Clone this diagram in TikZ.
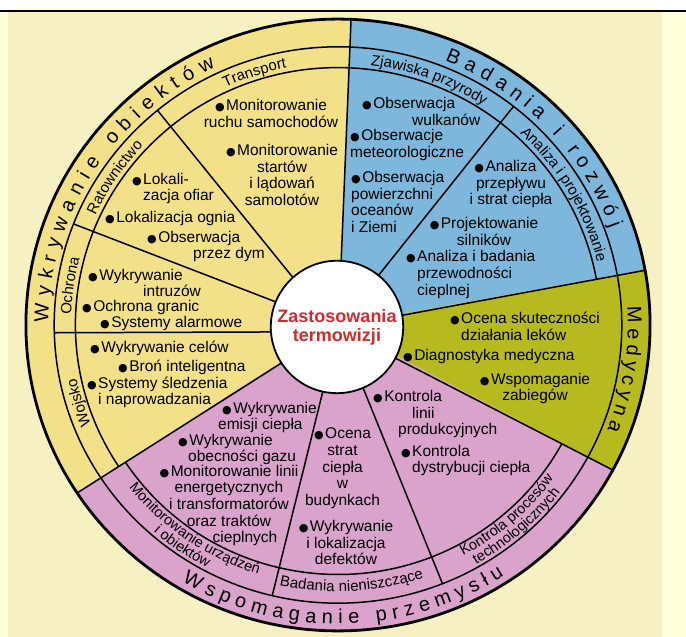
\documentclass[tikz,border=0pt]{standalone}
\usepackage{fontspec}
\setmainfont{Liberation Sans}
\newfontfamily\bulletfont{DejaVu Sans}
\definecolor{cyel}{HTML}{F2E189}
\definecolor{cblu}{HTML}{7DB7DB}
\definecolor{cgrn}{HTML}{B6BA1F}
\definecolor{cpnk}{HTML}{D9A3CB}
\definecolor{cred}{HTML}{D42A2A}
\definecolor{page}{HTML}{F7F0C3}
\definecolor{pale}{HTML}{FFFFDA}
\newcount\lettercount
\newcommand\itemfont{\fontsize{15.5}{16.7}\selectfont}
\newcommand\subfont{\fontsize{15}{16}\selectfont}
\newcommand\subsmallfont{\fontsize{14.5}{15}\selectfont}
\newcommand\outerfont{\fontsize{20}{22}\selectfont}
\newcommand\bul{{\bulletfont\fontsize{11}{11}\selectfont ●}\hspace{1.5pt}}
\newcommand\awsp{}
% character widths (Arial / Liberation Sans metrics, em)
\def\defcw#1#2{\expandafter\def\csname cw@#1\endcsname{#2}}
\expandafter\def\csname cw@\endcsname{0.278}
\defcw{A}{0.667}\defcw{B}{0.667}\defcw{K}{0.667}\defcw{M}{0.833}\defcw{O}{0.778}
\defcw{R}{0.722}\defcw{T}{0.611}\defcw{W}{0.944}\defcw{Z}{0.611}
\defcw{a}{0.556}\defcw{b}{0.556}\defcw{c}{0.500}\defcw{d}{0.556}\defcw{e}{0.556}
\defcw{g}{0.556}\defcw{h}{0.556}\defcw{i}{0.222}\defcw{j}{0.222}\defcw{k}{0.500}
\defcw{l}{0.222}\defcw{m}{0.833}\defcw{n}{0.556}\defcw{o}{0.556}\defcw{p}{0.556}
\defcw{r}{0.333}\defcw{s}{0.500}\defcw{t}{0.278}\defcw{u}{0.556}\defcw{w}{0.722}
\defcw{y}{0.500}\defcw{z}{0.500}\defcw{ó}{0.556}\defcw{ą}{0.556}\defcw{ń}{0.556}
\defcw{ł}{0.222}
\tikzset{
  letter/.style={anchor=base, inner sep=0pt, text=black},
  item/.style={inner sep=0pt, font=\itemfont, text=black},
  ring/.style={line width=1.5pt},
  divider/.style={line width=1.5pt},
}
% #1 font, #2 font size, #3 baseline radius, #4 centre angle, #5 direction, #6 tracking, #7 letters
\newcommand\arcword[7]{%
  \gdef\awtot{0}%
  \foreach \ch in {#7}{%
    \edef\chw{\csname cw@\ch\endcsname}%
    \pgfmathsetmacro\awt{\awtot+\chw*#2+#6}%
    \xdef\awtot{\awt}%
  }%
  \pgfmathsetmacro\awtotal{\awtot-#6}%
  \xdef\awtotal{\awtotal}%
  \gdef\awpos{0}%
  \foreach \ch in {#7}{%
    \edef\chw{\csname cw@\ch\endcsname}%
    \pgfmathsetmacro\chwpt{\chw*#2}%
    \pgfmathsetmacro\awang{#4+(#5)*(\awpos+\chwpt/2-\awtotal/2)/#3*57.29578}%
    \pgfmathsetmacro\awrot{\awang+(#5)*90}%
    \global\advance\lettercount by 1
    \node[letter, font=#1, rotate=\awrot] (ltr\the\lettercount) at (\awang:#3) {\ch};
    \pgfmathsetmacro\awn{\awpos+\chwpt+#6}%
    \xdef\awpos{\awn}%
  }%
}
\begin{document}
\begin{tikzpicture}[x=1pt,y=1pt]
\useasboundingbox (0,0) rectangle (686,637);
\fill[white] (0,0) rectangle (686,637);
\fill[pale] (0,0) rectangle (686,626);
\fill[page] (8,0) rectangle (662,626);
\draw[line width=2pt] (0,626) -- (686,626);

\begin{scope}[shift={(338,312)}, xscale=1.01, yscale=0.99]
  \fill[cyel] (0,0) -- (87.5:309) arc[start angle=87.5, end angle=213.3, radius=309] -- cycle;
  \fill[cblu] (0,0) -- (10.3:309) arc[start angle=10.3, end angle=87.5, radius=309] -- cycle;
  \fill[cgrn] (0,0) -- (-28.3:309) arc[start angle=-28.3, end angle=10.3, radius=309] -- cycle;
  \fill[cpnk] (0,0) -- (213.3:309) arc[start angle=213.3, end angle=331.7, radius=309] -- cycle;
  \draw[ring] (0,0) circle[radius=281];
  \draw[ring] (87.5:260) arc[start angle=87.5, end angle=213.3, radius=260];
  \draw[ring] (10.3:260) arc[start angle=10.3, end angle=87.5, radius=260];
  \draw[ring] (213.3:252) arc[start angle=213.3, end angle=331.7, radius=252];
  % main dividers
  \draw[divider] (87.2:62) -- (87.6:309);
  \draw[divider] (8.7:62) -- (10.3:309);
  \draw[divider] (-30.7:62) -- (-28.3:309);
  \draw[divider] (214.6:62) -- (213.3:309);
  % sub dividers
  \draw[divider] (133.2:62) -- (129.5:281);
  \draw[divider] (159.3:62) -- (158.7:281);
  \draw[divider] (186.5:62) -- (181.6:281);
  \draw[divider] (51.3:62) -- (51.8:281);
  \draw[divider] (257.5:62) -- (256.6:281);
  \draw[divider] (291.3:62) -- (291.6:281);
  \draw[line width=2.8pt] (0,0) circle[radius=309];
  \node[circle, draw, fill=white, minimum size=124pt, line width=1.8pt,
        font=\bfseries\fontsize{18}{19}\selectfont, text=cred, align=center]
        (centre) at (-1,-2) {Zastosowania\\termowizji};

  \arcword{\outerfont}{20}{287}{147.25}{-1}{7.3}{W,y,k,r,y,w,a,n,i,e,\awsp,o,b,i,e,k,t,ó,w}
  \arcword{\outerfont}{20}{287}{44.15}{-1}{6.4}{B,a,d,a,n,i,a,\awsp,i,\awsp,r,o,z,w,ó,j}
  \arcword{\outerfont}{20}{287}{-8.95}{-1}{5.1}{M,e,d,y,c,y,n,a}
  \arcword{\outerfont}{20}{302}{271.15}{1}{5.6}{W,s,p,o,m,a,g,a,n,i,e,\awsp,p,r,z,e,m,y,s,ł,u}

  \arcword{\subfont}{15}{264.5}{108}{-1}{0}{T,r,a,n,s,p,o,r,t}
  \arcword{\subfont}{15}{264.5}{146}{-1}{0}{R,a,t,o,w,n,i,c,t,w,o}
  \arcword{\subfont}{15}{264.5}{171.5}{-1}{0}{O,c,h,r,o,n,a}
  \arcword{\subfont}{15}{264.5}{197}{-1}{0}{W,o,j,s,k,o}
  \arcword{\subfont}{15}{264.5}{70}{-1}{0}{Z,j,a,w,i,s,k,a,\awsp,p,r,z,y,r,o,d,y}
  \arcword{\subfont}{15}{264.5}{30.5}{-1}{0}{A,n,a,l,i,z,a,\awsp,i,\awsp,p,r,o,j,e,k,t,o,w,a,n,i,e}
  \arcword{\subsmallfont}{14.5}{264}{235.5}{1}{0}{M,o,n,i,t,o,r,o,w,a,n,i,e,\awsp,u,r,z,ą,d,z,e,ń}
  \arcword{\subsmallfont}{14.5}{277.5}{235.5}{1}{0}{i,\awsp,o,b,i,e,k,t,ó,w}
  \arcword{\subfont}{15}{269}{273}{1}{0}{B,a,d,a,n,i,a,\awsp,n,i,e,n,i,s,z,c,z,ą,c,e}
  \arcword{\subsmallfont}{14.5}{264}{311}{1}{0}{K,o,n,t,r,o,l,a,\awsp,p,r,o,c,e,s,ó,w}
  \arcword{\subsmallfont}{14.5}{277.5}{311}{1}{0}{t,e,c,h,n,o,l,o,g,i,c,z,n,y,c,h}
\end{scope}

% Transport
\node[item, align=center] (tr1) at (271,637-113.5) {\bul Monitorowanie\\ruchu samochodów};
\node[item, align=center] (tr2) at (282,637-175) {\bul Monitorowanie\\startów\\i lądowań\\samolotów};
% Ratownictwo
\node[item, align=left, anchor=west] (ra1) at (143,637-188.5) {\llap{\bul}Lokali-\\zacja ofiar};
\node[item, anchor=west] (ra2) at (105,637-218) {\bul Lokalizacja ognia};
\node[item, align=left, anchor=west] (ra3) at (147,637-246.5) {\bul Obserwacja\\\hspace*{46pt}przez dym};
% Ochrona
\node[item, align=left, anchor=west] (oc1) at (88,637-283) {\bul Wykrywanie\\\hspace*{55pt}intruzów};
\node[item, anchor=west] (oc2) at (82,637-307) {\bul Ochrona granic};
\node[item, anchor=west] (oc3) at (100,637-323) {\bul Systemy alarmowe};
% Wojsko
\node[item, anchor=west] (wo1) at (90,637-348) {\bul Wykrywanie celów};
\node[item, anchor=west] (wo2) at (118,637-367) {\bul Broń inteligentna};
\node[item, align=left, anchor=west] (wo3) at (98,637-392.5) {\llap{\bul}Systemy śledzenia\\i naprowadzania};
% Monitorowanie urzadzen
\node[item, align=left, anchor=west] (mo1) at (218,637-417.5) {\hspace*{4pt}\bul Wykrywanie\\emisji ciepła};
\node[item, align=left, anchor=west] (mo2) at (178,637-449.5) {\bul Wykrywanie\\\hspace*{10pt}obecności gazu};
\node[item, align=center] (mo3) at (229,637-505.5) {\bul Monitorowanie linii\\energetycznych\\i transformatorów\\oraz traktów\\\hspace*{32pt}cieplnych};
% Badania nieniszczace
\node[item, align=center] (bn1) at (342.5,637-468.5) {\bul Ocena\\strat\\ciepła\\w\\budynkach};
\node[item, align=center] (bn2) at (346,637-542.5) {\bul Wykrywanie\\i lokalizacja\\defektów};
% Kontrola procesow
\node[item, align=left, anchor=west] (kp1) at (373,637-414) {\bul Kontrola\\\hspace*{39pt}linii\\\hspace*{25pt}produkcyjnych};
\node[item, align=left, anchor=west] (kp2) at (412,637-460.5) {\llap{\bul}Kontrola\\dystrybucji ciepła};
% Medycyna
\node[item, align=left, anchor=west] (me1) at (461,637-326.5) {\llap{\bul}Ocena skuteczności\\działania leków};
\node[item, anchor=west] (me2) at (403,637-356) {\bul Diagnostyka medyczna};
\node[item, align=center] (me3) at (535,637-388.5) {\bul Wspomaganie\\zabiegów};
% Zjawiska przyrody
\node[item, align=left, anchor=west] (zj1) at (362,637-111.5) {\bul Obserwacja\\\hspace*{50pt}wulkanów};
\node[item, align=left, anchor=west] (zj2) at (350,637-145) {\bul Obserwacje\\meteorologiczne};
\node[item, align=left, anchor=west] (zj3) at (351,637-202) {\bul Obserwacja\\powierzchni\\oceanów\\i Ziemi};
% Analiza i projektowanie
\node[item, align=center] (ap1) at (511,637-184) {\llap{\bul}Analiza\\przepływu\\i strat ciepła};
\node[item, align=center] (ap2) at (484,637-231.5) {\bul Projektowanie\\silników};
\node[item, align=left, anchor=west] (ap3) at (417,637-274.5) {\llap{\bul}Analiza i badania\\przewodności\\cieplnej};
\end{tikzpicture}
\end{document}
